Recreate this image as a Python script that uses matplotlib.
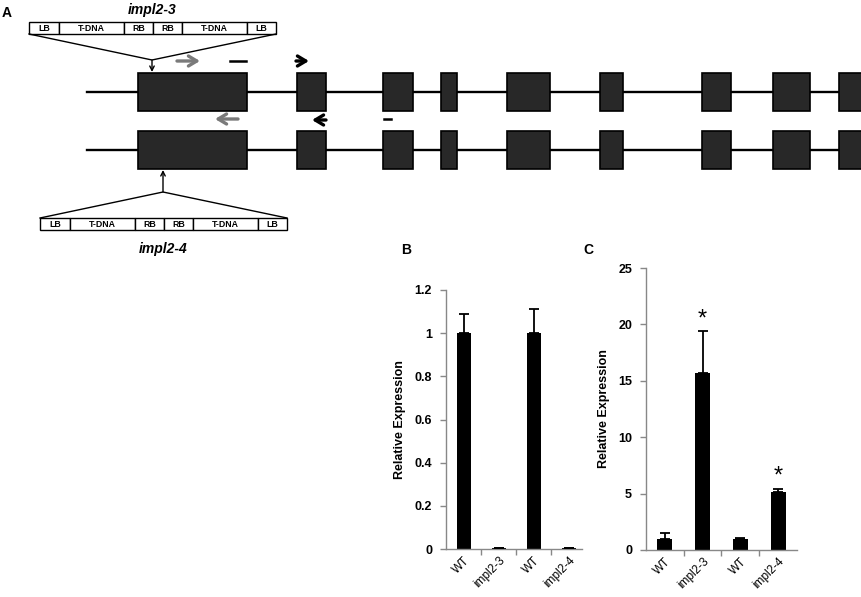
import numpy as np
import matplotlib
matplotlib.use('Agg')
import matplotlib.pyplot as plt
from matplotlib.patches import Rectangle

plt.rcParams['font.family'] = ['Liberation Sans', 'DejaVu Sans']

# ---- data ----
# gene model (pixel units of the figure, x from left, y from top)
exon_start = [138, 297, 383, 441, 507, 600, 702, 773, 839]
exon_end = [247, 326, 413, 457, 550, 623, 731, 810, 880]
gene_rows = [92, 150]
gene_left = 87
exon_half = 19

tdna_labels = ['LB', 'T-DNA', 'RB', 'RB', 'T-DNA', 'LB']
tdna_widths = [30, 65, 29, 29, 65, 29]

# panel B / C values
categories = ['WT', 'impl2-3', 'WT', 'impl2-4']
b_values = [1.0, 0.003, 1.0, 0.003]
b_err = [0.09, 0.0, 0.11, 0.0]
c_values = [1.0, 15.7, 1.0, 5.15]
c_err = [0.5, 3.7, 0.05, 0.3]
c_signif = [False, True, False, True]

fig = plt.figure(figsize=(8.62, 5.97), dpi=100)

# ---- panel A: drawn on a full figure overlay in pixel units ----
axA = fig.add_axes([0, 0, 1, 1])
axA.set_xlim(0, 862)
axA.set_ylim(597, 0)
axA.axis('off')

for yc in gene_rows:
    axA.plot([gene_left, 870], [yc, yc], color='black', lw=1.7, zorder=1, clip_on=True)
    for s, e in zip(exon_start, exon_end):
        axA.add_patch(Rectangle((s, yc - exon_half), e - s, 2 * exon_half,
                                facecolor='#282828', edgecolor='black', lw=1.2, zorder=2))


def tdna_box(x0, ytop, h=12):
    x = x0
    for lab, w in zip(tdna_labels, tdna_widths):
        axA.add_patch(Rectangle((x, ytop), w, h, facecolor='white', edgecolor='black', lw=1.0))
        axA.text(x + w / 2, ytop + h / 2 + 0.5, lab, ha='center', va='center',
                 fontsize=6.3, fontweight='bold')
        x += w
    return x


def arrow(x0, y0, x1, y1, color='black', lw=2.4, style='->,head_length=0.5,head_width=0.3', ms=12):
    axA.annotate('', xy=(x1, y1), xytext=(x0, y0),
                 arrowprops=dict(arrowstyle=style, color=color, lw=lw, mutation_scale=ms,
                                 shrinkA=0, shrinkB=0))


# top insertion (impl2-3)
x_end = tdna_box(29, 22)
axA.plot([29, 152, x_end], [34, 60, 34], color='black', lw=1.0)
arrow(152, 60, 152, 72, lw=1.0, style='->', ms=8)
axA.text(152, 10, 'impl2-3', ha='center', va='center', fontsize=10,
         fontweight='bold', style='italic')

# bottom insertion (impl2-4)
x_end = tdna_box(40, 218)
axA.plot([40, 163, x_end], [218, 192, 218], color='black', lw=1.0)
arrow(163, 192, 163, 170, lw=1.0, style='->', ms=8)
axA.text(163, 249, 'impl2-4', ha='center', va='center', fontsize=10,
         fontweight='bold', style='italic')

# primers
arrow(177, 61, 200, 61, color='#7a7a7a')
axA.plot([230, 246], [61, 61], color='black', lw=1.8)
arrow(296, 61, 309, 61)
arrow(238, 119, 215, 119, color='#7a7a7a')
arrow(326, 120, 312, 120)
axA.plot([384, 391], [119, 119], color='black', lw=1.8)

axA.text(7, 13, 'A', ha='center', va='center', fontsize=10, fontweight='bold')
axA.text(406, 250, 'B', ha='center', va='center', fontsize=10, fontweight='bold')
axA.text(588, 250, 'C', ha='center', va='center', fontsize=10, fontweight='bold')


# ---- bar panels ----
def bar_panel(rect, vals, errs, ylim, yticks, ylabels, xmax):
    ax = fig.add_axes(rect)
    x = np.arange(len(categories))
    ax.bar(x, vals, width=0.4, color='black', zorder=2)
    ax.errorbar(x, vals, yerr=[np.zeros(len(errs)), errs], fmt='none',
                ecolor='black', elinewidth=1.3, capsize=3.5, capthick=1.3, zorder=3)
    ax.set_xlim(-0.5, xmax)
    ax.set_ylim(*ylim)
    ax.set_yticks(yticks)
    ax.set_yticklabels(ylabels, fontsize=9, fontweight='bold')
    ax.set_xticks(x)
    ax.set_xticklabels(categories, rotation=45, ha='right', va='top', rotation_mode='anchor',
                       fontsize=8.5)
    ax.set_xticks(x[:-1] + 0.5, minor=True)
    ax.tick_params(axis='x', which='major', length=0, pad=4)
    ax.tick_params(axis='x', which='minor', length=4, color='#888888', width=1)
    ax.tick_params(axis='y', length=4, color='#888888', width=1, pad=6)
    for s in ['top', 'right']:
        ax.spines[s].set_visible(False)
    for s in ['left', 'bottom']:
        ax.spines[s].set_color('#888888')
        ax.spines[s].set_linewidth(1.0)
    ax.set_ylabel('Relative Expression', fontsize=9, fontweight='bold', labelpad=6)
    return ax


axB = bar_panel([446 / 862, 1 - 549 / 597, 136 / 862, 259 / 597], b_values, b_err,
                (0, 1.2), [0, 0.2, 0.4, 0.6, 0.8, 1.0, 1.2],
                ['0', '0.2', '0.4', '0.6', '0.8', '1', '1.2'], 3.37)

axC = bar_panel([646 / 862, 1 - 550 / 597, 151 / 862, 282 / 597], c_values, c_err,
                (0, 25), [0, 5, 10, 15, 20, 25], ['0', '5', '10', '15', '20', '25'], 3.5)
for i, (v, e, sig) in enumerate(zip(c_values, c_err, c_signif)):
    if sig:
        axC.text(i, v + e + 0.1, '*', ha='center', va='bottom', fontsize=17)

fig.savefig('out.png', dpi=100)
